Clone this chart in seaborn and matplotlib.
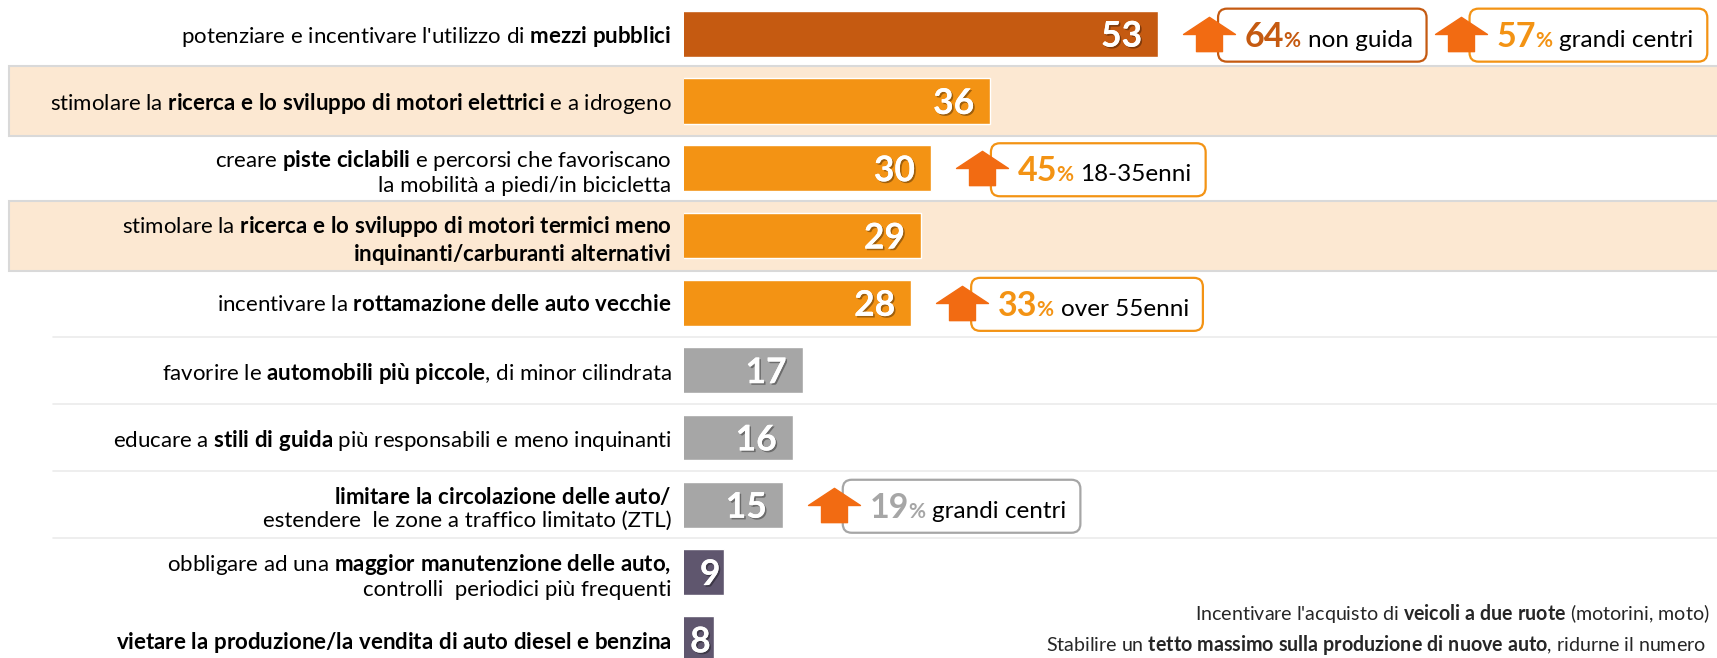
import matplotlib
matplotlib.use('Agg')
import matplotlib.pyplot as plt
import matplotlib.patheffects as pe
from matplotlib.path import Path
from matplotlib.patches import FancyBboxPatch, Rectangle
from matplotlib.transforms import IdentityTransform, blended_transform_factory
import seaborn as sns
import pandas as pd

sns.set_style('white')
plt.rcParams['font.family'] = ['Lato', 'DejaVu Sans']
plt.rcParams['mathtext.fontset'] = 'custom'
plt.rcParams['mathtext.rm'] = 'Lato'
plt.rcParams['mathtext.bf'] = 'Lato:bold'
plt.rcParams['mathtext.it'] = 'Lato:italic'


def b(s):
    # bold part of a label
    return r'$\mathbf{' + s.replace(' ', r'\ ') + '}$'


# dati
labels = [
    "potenziare e incentivare l'utilizzo di " + b("mezzi pubblici"),
    "stimolare la " + b("ricerca e lo sviluppo di motori elettrici") + " e a idrogeno",
    "creare " + b("piste ciclabili") + " e percorsi che favoriscano\nla mobilità a piedi/in bicicletta",
    "stimolare la " + b("ricerca e lo sviluppo di motori termici meno") + "\n" + b("inquinanti/carburanti alternativi"),
    "incentivare la " + b("rottamazione delle auto vecchie"),
    "favorire le " + b("automobili più piccole") + ", di minor cilindrata",
    "educare a " + b("stili di guida") + " più responsabili e meno inquinanti",
    b("limitare la circolazione delle auto/") + "\nestendere  le zone a traffico limitato (ZTL)",
    "obbligare ad una " + b("maggior manutenzione delle auto,") + "\ncontrolli  periodici più frequenti",
    b("vietare la produzione/la vendita di auto diesel e benzina"),
]
values = [53, 36, 30, 29, 28, 17, 16, 15, 9, 8]
bar_colors = ['#c55a11', '#f39314', '#f39314', '#f39314', '#f39314',
              '#a6a6a6', '#a6a6a6', '#a6a6a6', '#5f566e', '#5f566e']
shaded_rows = [1, 3]
line_rows = [4, 5, 6, 7]

callout_rows = [0, 0, 2, 4, 7]
callout_pcts = ['64', '57', '45', '33', '19']
callout_texts = ['non guida', 'grandi centri', '18-35enni', 'over 55enni', 'grandi centri']
callout_colors = ['#c55a11', '#f39314', '#f39314', '#f39314', '#a6a6a6']

extra_texts = [
    "Incentivare l'acquisto di " + b("veicoli a due ruote") + " (motorini, moto)",
    "Stabilire un " + b("tetto massimo sulla produzione di nuove auto") + ", ridurne il numero",
]

W, H, DPI = 1717, 658, 100
AX_LEFT = 684
fig = plt.figure(figsize=(W / DPI, H / DPI), dpi=DPI)
ax = fig.add_axes([AX_LEFT / W, 0, 1 - AX_LEFT / W, 1])
ax.set_facecolor('none')

df = pd.DataFrame({'row': [str(i) for i in range(len(values))], 'value': values})
sns.barplot(data=df, x='value', y='row', hue='row', palette=bar_colors, legend=False,
            width=0.68, saturation=1, ax=ax, zorder=2)

ax.set_xlim(5, 5 + (W - AX_LEFT) / 9.876)
ax.set_ylim(9.277, -0.5)
ax.set_xticks([])
ax.set_yticks(range(len(labels)))
ax.set_yticklabels(labels, fontsize=16, color='black', linespacing=1.2)
ax.tick_params(axis='y', length=0, pad=9)
ax.set_xlabel('')
ax.set_ylabel('')
for s in ax.spines.values():
    s.set_visible(False)

# fasce colorate e linee di separazione
bt = blended_transform_factory(fig.transFigure, ax.transData)
for r in shaded_rows:
    ax.add_patch(Rectangle((9 / W, r - 0.52), 1.01, 1.04, transform=bt, facecolor='#fce8d2',
                           edgecolor='#d9d9d9', lw=1.5, clip_on=False, zorder=0))
for r in line_rows:
    ax.plot([53 / W, 1], [r + 0.5, r + 0.5], transform=bt, color='#ebebeb', lw=1.2,
            clip_on=False, zorder=0)

# valori sulle barre
for i, v in enumerate(values):
    inset = 16 if v >= 10 else 3
    ax.annotate(str(v), xy=(v, i), xytext=(-inset, 0), textcoords='offset pixels',
                ha='right', va='center_baseline', color='white', fontsize=25.5, fontweight='bold',
                path_effects=[pe.withSimplePatchShadow(offset=(1.2, -1.2), shadow_rgbFace='black', alpha=0.35),
                              pe.Normal()], zorder=4)

for k, t in enumerate(extra_texts):
    fig.text([1195, 1046][k] / W, 1 - [611, 642][k] / H, t, fontsize=14.1, ha='left', va='center_baseline')

# frecce + box
arrow_path = Path([(0, 0.33), (0.5, 0.0), (0.25, 0.0), (0.25, -0.33), (-0.25, -0.33),
                   (-0.25, 0.0), (-0.5, 0.0), (0, 0.33)],
                  [Path.MOVETO] + [Path.LINETO] * 6 + [Path.CLOSEPOLY])

fig.canvas.draw()
renderer = fig.canvas.get_renderer()
ident = IdentityTransform()
next_start = {}
for r, pct, txt, col in zip(callout_rows, callout_pcts, callout_texts, callout_colors):
    x_end, y_c = ax.transData.transform((values[r], r))
    start = next_start.get(r, x_end + 25)
    ax.plot([start + 26], [y_c], transform=ident, marker=arrow_path, ms=37.4, color='#f26b12',
            ls='none', clip_on=False, zorder=6)
    box_left = start + 35
    base = y_c - 13
    x = box_left + 27
    t1 = ax.text(x, base, pct, transform=ident, fontsize=24.5, fontweight='bold', color=col,
                 va='baseline', ha='left', zorder=7)
    x += t1.get_window_extent(renderer).width - 1
    t2 = ax.text(x, base, '%', transform=ident, fontsize=15, fontweight='bold', color=col,
                 va='baseline', ha='left', zorder=7)
    x += t2.get_window_extent(renderer).width + 7
    t3 = ax.text(x, base, txt, transform=ident, fontsize=17.5, color='black',
                 va='baseline', ha='left', zorder=7)
    x += t3.get_window_extent(renderer).width + 14
    box = FancyBboxPatch((box_left, y_c - 1.5 - 26.5), x - box_left, 53, transform=ident,
                         boxstyle='round,pad=0,rounding_size=9', facecolor='white',
                         edgecolor=col, lw=1.6, clip_on=False, zorder=5)
    ax.add_patch(box)
    next_start[r] = x + 8

fig.savefig('out.png', dpi=DPI, facecolor='white')
